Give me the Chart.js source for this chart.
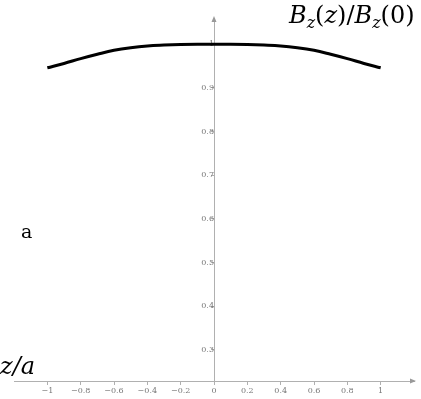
<!DOCTYPE html>
<html>
<head>
<meta charset="utf-8">
<script src="https://cdn.jsdelivr.net/npm/chart.js@4"></script>
<style>
  html, body { margin: 0; padding: 0; background: #fff; }
  #wrap { width: 421px; height: 399px; position: relative; }
</style>
</head>
<body>
<div id="wrap"><canvas id="fieldChart"></canvas></div>
<script>
// Data
const zValues = [-1, -0.9, -0.8, -0.7, -0.6, -0.5, -0.4, -0.3, -0.2, -0.1, 0, 0.1, 0.2, 0.3, 0.4, 0.5, 0.6, 0.7, 0.8, 0.9, 1];
const bRatio = [0.946, 0.956, 0.967, 0.977, 0.986, 0.992, 0.996, 0.998, 0.9993, 0.9999, 1.0, 0.9999, 0.9993, 0.998, 0.996, 0.992, 0.986, 0.977, 0.967, 0.956, 0.946];
const xTicks = [-1, -0.8, -0.6, -0.4, -0.2, 0, 0.2, 0.4, 0.6, 0.8, 1];
const yTicks = [0.3, 0.4, 0.5, 0.6, 0.7, 0.8, 0.9, 1];

const axisGray = '#b0b0b0';
const labelGray = '#777';
const tickFont = { family: 'DejaVu Serif', size: 8 };

const fmt = v => {
  const s = String(Math.round(v * 10) / 10);
  return s.replace('-', '\u2212');
};

// arrows on the axes + the text labels
const decorations = {
  id: 'decorations',
  afterDraw(chart) {
    const { ctx, scales: { x, y } } = chart;
    const ax = x.getPixelForValue(0);
    const ay = y.bottom;
    ctx.save();
    ctx.fillStyle = '#999';
    // x arrow
    ctx.beginPath();
    ctx.moveTo(x.right + 2, ay);
    ctx.lineTo(x.right - 4, ay - 2.5);
    ctx.lineTo(x.right - 4, ay + 2.5);
    ctx.closePath();
    ctx.fill();
    // y arrow
    ctx.beginPath();
    ctx.moveTo(ax, y.top - 2);
    ctx.lineTo(ax - 2.5, y.top + 4);
    ctx.lineTo(ax + 2.5, y.top + 4);
    ctx.closePath();
    ctx.fill();

    ctx.fillStyle = '#000';
    ctx.textBaseline = 'alphabetic';
    // B_z(z)/B_z(0)
    const parts = [
      ['B', 'italic 24px "DejaVu Serif"', 0],
      ['z', 'italic 16px "DejaVu Serif"', 5],
      ['(', '24px "DejaVu Serif"', 0],
      ['z', 'italic 24px "DejaVu Serif"', 0],
      [')/', '24px "DejaVu Serif"', 0],
      ['B', 'italic 24px "DejaVu Serif"', 0],
      ['z', 'italic 16px "DejaVu Serif"', 5],
      ['(0)', '24px "DejaVu Serif"', 0]
    ];
    let px = 289;
    parts.forEach(([t, f, dy]) => {
      ctx.font = f;
      ctx.fillText(t, px, 23 + dy);
      px += ctx.measureText(t).width;
    });
    ctx.font = 'italic 24px "DejaVu Serif"';
    ctx.fillText('z/a', 0, 374);
    ctx.font = '19px "DejaVu Serif"';
    ctx.fillText('a', 21, 238);
    ctx.restore();
  }
};

new Chart(document.getElementById('fieldChart'), {
  type: 'line',
  data: {
    datasets: [{
      data: zValues.map((z, i) => ({ x: z, y: bRatio[i] })),
      borderColor: '#000',
      borderWidth: 3,
      pointRadius: 0,
      tension: 0.4,
      fill: false
    }]
  },
  options: {
    responsive: true,
    maintainAspectRatio: false,
    animation: false,
    layout: { padding: { left: 14, right: 7, top: 18, bottom: 18 } },
    plugins: { legend: { display: false }, tooltip: { enabled: false } },
    scales: {
      x: {
        type: 'linear',
        min: -1.2,
        max: 1.2,
        position: { y: 0.229 },
        afterBuildTicks: s => { s.ticks = xTicks.map(v => ({ value: v })); },
        border: { display: true, color: axisGray, width: 1 },
        grid: { drawOnChartArea: false, drawTicks: true, tickLength: 3, color: axisGray },
        ticks: { callback: fmt, color: labelGray, font: tickFont, padding: 2, maxRotation: 0, autoSkip: false }
      },
      y: {
        type: 'linear',
        min: 0.229,
        max: 1.06,
        position: { x: 0 },
        afterBuildTicks: s => { s.ticks = yTicks.map(v => ({ value: v })); },
        border: { display: true, color: axisGray, width: 1 },
        grid: { drawOnChartArea: false, drawTicks: true, tickLength: 3, color: axisGray },
        ticks: { callback: fmt, color: labelGray, font: tickFont, padding: 1, autoSkip: false }
      }
    }
  },
  plugins: [decorations]
});
</script>
</body>
</html>
